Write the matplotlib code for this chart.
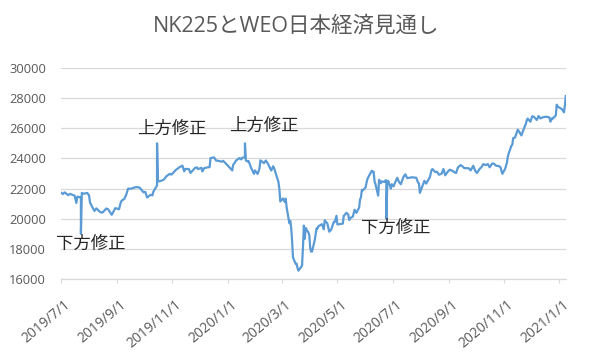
import matplotlib
matplotlib.use("Agg")
import matplotlib.pyplot as plt
import matplotlib.dates as mdates
import matplotlib.transforms as mtransforms
import pandas as pd

# Nikkei 225 close
dates = [
 "2019-07-01","2019-07-03","2019-07-05","2019-07-09","2019-07-11","2019-07-16","2019-07-18","2019-07-19","2019-07-22","2019-07-23",
 "2019-07-24","2019-07-26","2019-07-30","2019-08-01","2019-08-02","2019-08-05","2019-08-07","2019-08-09","2019-08-13","2019-08-15",
 "2019-08-16","2019-08-20","2019-08-22","2019-08-26","2019-08-28","2019-08-30","2019-09-03","2019-09-05","2019-09-06","2019-09-09",
 "2019-09-11","2019-09-13","2019-09-17","2019-09-19","2019-09-20","2019-09-24","2019-09-26","2019-09-30","2019-10-02","2019-10-04",
 "2019-10-08","2019-10-10","2019-10-11","2019-10-15","2019-10-16","2019-10-18","2019-10-21","2019-10-23","2019-10-25","2019-10-29",
 "2019-10-31","2019-11-05","2019-11-07","2019-11-08","2019-11-12","2019-11-14","2019-11-15","2019-11-19","2019-11-21","2019-11-22",
 "2019-11-26","2019-11-28","2019-11-29","2019-12-03","2019-12-04","2019-12-06","2019-12-10","2019-12-12","2019-12-13","2019-12-17",
 "2019-12-19","2019-12-23","2019-12-25","2019-12-27","2019-12-30",
 "2020-01-06","2020-01-07","2020-01-09","2020-01-10","2020-01-14","2020-01-16","2020-01-17","2020-01-20","2020-01-21","2020-01-23",
 "2020-01-24","2020-01-27","2020-01-28","2020-01-30","2020-01-31","2020-02-03","2020-02-05","2020-02-06","2020-02-07","2020-02-10",
 "2020-02-12","2020-02-14","2020-02-18","2020-02-20","2020-02-21","2020-02-25","2020-02-26","2020-02-27","2020-02-28","2020-03-02",
 "2020-03-04","2020-03-05","2020-03-06","2020-03-09","2020-03-10","2020-03-11","2020-03-12","2020-03-13","2020-03-16","2020-03-17",
 "2020-03-18","2020-03-19","2020-03-23","2020-03-24","2020-03-25","2020-03-26","2020-03-27","2020-03-30","2020-03-31","2020-04-01",
 "2020-04-02","2020-04-03","2020-04-06","2020-04-07","2020-04-08","2020-04-09","2020-04-10","2020-04-14","2020-04-16","2020-04-17",
 "2020-04-20","2020-04-22","2020-04-24","2020-04-27","2020-04-28","2020-04-30","2020-05-01","2020-05-07","2020-05-08","2020-05-11",
 "2020-05-13","2020-05-14","2020-05-15","2020-05-18","2020-05-20","2020-05-22","2020-05-25","2020-05-26","2020-05-27","2020-05-28",
 "2020-05-29","2020-06-01","2020-06-03","2020-06-05","2020-06-08","2020-06-09","2020-06-10","2020-06-11","2020-06-12","2020-06-15",
 "2020-06-16","2020-06-18","2020-06-19","2020-06-22","2020-06-23","2020-06-24","2020-06-25","2020-06-26","2020-06-29","2020-06-30",
 "2020-07-02","2020-07-03","2020-07-06","2020-07-08","2020-07-10","2020-07-13","2020-07-15","2020-07-17","2020-07-20","2020-07-22",
 "2020-07-27","2020-07-29","2020-07-30","2020-07-31","2020-08-03","2020-08-05","2020-08-07","2020-08-11","2020-08-13","2020-08-14",
 "2020-08-17","2020-08-19","2020-08-21","2020-08-24","2020-08-26","2020-08-28","2020-08-31","2020-09-02","2020-09-04","2020-09-07",
 "2020-09-09","2020-09-11","2020-09-14","2020-09-16","2020-09-18","2020-09-23","2020-09-25","2020-09-28","2020-09-30","2020-10-02",
 "2020-10-05","2020-10-07","2020-10-09","2020-10-12","2020-10-14","2020-10-16","2020-10-19","2020-10-21","2020-10-23","2020-10-26",
 "2020-10-28","2020-10-30","2020-11-02","2020-11-04","2020-11-05","2020-11-06","2020-11-09","2020-11-10","2020-11-11","2020-11-13",
 "2020-11-16","2020-11-18","2020-11-20","2020-11-24","2020-11-25","2020-11-26","2020-11-27","2020-11-30","2020-12-02","2020-12-04",
 "2020-12-07","2020-12-09","2020-12-11","2020-12-14","2020-12-16","2020-12-18","2020-12-21","2020-12-22","2020-12-24","2020-12-25",
 "2020-12-28","2020-12-29","2020-12-30",
 "2021-01-04","2021-01-05","2021-01-06","2021-01-07","2021-01-08",
]
values = [
 21729,21638,21746,21565,21643,21535,21046,21466,21416,21450,
 21709,21658,21709,21540,21087,20720,20516,20684,20455,20405,
 20418,20677,20628,20261,20479,20704,20625,21085,21199,21318,
 21597,21988,22001,22044,22079,22098,22048,21756,21778,21410,
 21587,21551,21798,22207,22472,22492,22549,22625,22799,22974,
 22927,23251,23330,23391,23520,23141,23303,23293,23038,23112,
 23373,23409,23293,23379,23135,23354,23410,23424,24023,24066,
 23865,23821,23782,23837,23656,
 23204,23575,23739,23850,24025,23933,24041,24083,23864,23795,
 23827,23343,23215,22977,23205,22971,23319,23873,23827,23685,
 23861,23687,23194,23479,23386,22605,22426,21948,21142,21344,
 21100,21329,20749,19698,19867,19416,18559,17431,17002,17011,
 16726,16552,16887,18092,19546,18665,19389,19084,18917,18065,
 17819,17820,18576,18950,19353,19345,19498,19639,19291,19897,
 19669,19137,19262,19783,19771,20193,19619,19674,20179,20390,
 20267,19914,20037,20134,20595,20388,20741,21271,21419,21916,
 21877,22062,22613,22863,23178,23091,23124,22472,22305,21530,
 22582,22355,22478,22437,22549,22535,22260,22512,21995,22288,
 22145,22306,22714,22438,22290,22784,22945,22696,22717,22751,
 22715,22397,22339,21710,22195,22514,22329,22750,23249,23289,
 23096,23110,22920,22985,23296,22882,23139,23247,23205,23089,
 23032,23406,23559,23475,23360,23346,23204,23511,23185,23029,
 23312,23422,23619,23558,23626,23410,23671,23639,23516,23494,
 23418,22977,23295,23695,24105,24325,24839,24905,25349,25385,
 25907,25728,25527,26165,26297,26537,26644,26434,26800,26751,
 26547,26817,26652,26733,26757,26763,26714,26436,26668,26656,
 26854,27568,27444,
 27258,27158,27056,27490,28139,
]

# WEO revision marker values, inserted into the same line on their dates
weo_dates = ["2019-07-23", "2019-10-15", "2020-01-20", "2020-06-24"]
weo_values = [19000, 25000, 25000, 20000]

title = "NK225とWEO日本経済見通し"
notes = ["下方修正", "上方修正", "上方修正", "下方修正"]
note_dates = ["2019-06-25", "2019-09-23", "2020-01-03", "2020-05-27"]
note_values = [18250, 25880, 26080, 19320]

x_ticks = ["2019-07-01","2019-09-01","2019-11-01","2020-01-01","2020-03-01",
           "2020-05-01","2020-07-01","2020-09-01","2020-11-01","2021-01-01"]
y_ticks = [16000, 18000, 20000, 22000, 24000, 26000, 28000, 30000]

plt.rcParams['font.family'] = ['Open Sans', 'Noto Sans CJK JP', 'DejaVu Sans']

s = pd.DataFrame({"date": pd.to_datetime(dates), "v": values, "o": 0})
w = pd.DataFrame({"date": pd.to_datetime(weo_dates), "v": weo_values, "o": 1})
df = pd.concat([s, w]).sort_values(["date", "o"], kind="stable")

fig = plt.figure(figsize=(5.92, 3.55), dpi=100)
ax = fig.add_axes([0.103, 0.2141, 0.8527, 0.5944])

ax.plot(df["date"], df["v"], color="#5B9BD5", lw=1.6, solid_joinstyle="round")

ax.set_xlim(s["date"].iloc[0], s["date"].iloc[-1])
ax.set_ylim(16000, 30000)
ax.set_yticks(y_ticks)
ax.set_xticks(pd.to_datetime(x_ticks))
ax.xaxis.set_major_formatter(
    matplotlib.ticker.FuncFormatter(lambda v, p: (lambda t: f"{t.year}/{t.month}/{t.day}")(mdates.num2date(v))))

ax.grid(axis="y", color="#D9D9D9", lw=0.9)
ax.set_axisbelow(True)
for sp in ["top", "right", "left"]:
    ax.spines[sp].set_visible(False)
ax.spines["bottom"].set_color("#D9D9D9")
ax.spines["bottom"].set_linewidth(0.9)
ax.tick_params(axis="y", length=0, labelsize=9.3, labelcolor="#595959", pad=10.8)
ax.tick_params(axis="x", length=3, color="#D9D9D9", labelsize=10, labelcolor="#595959", pad=10)
off = mtransforms.ScaledTranslation(3 / 100, 0, fig.dpi_scale_trans)
for lbl in ax.get_xticklabels():
    lbl.set_rotation(40)
    lbl.set_ha("right")
    lbl.set_va("top")
    lbl.set_rotation_mode("anchor")
    lbl.set_transform(lbl.get_transform() + off)

for t, dt, v in zip(notes, note_dates, note_values):
    ax.text(pd.Timestamp(dt), v, t, fontsize=12.5, color="#262626",
            ha="left", va="center", clip_on=False)

fig.text(0.5, 0.925, title, ha="center", va="center", fontsize=15.5, color="#595959")

fig.savefig("out.png", dpi=100)
